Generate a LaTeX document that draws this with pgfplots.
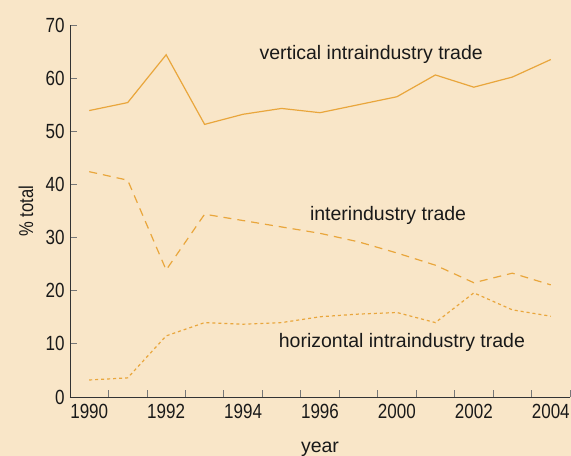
\documentclass[border=0pt]{standalone}
\usepackage{fontspec}
\setmainfont{Liberation Sans}
\newfontfamily\condfont[FakeStretch=0.83]{Liberation Sans}
\usepackage{pgfplots}
\pgfplotsset{compat=1.18}
\definecolor{bg}{HTML}{F9E6C8}
\definecolor{ln}{HTML}{E9A63C}
\definecolor{ax}{HTML}{333333}
\definecolor{tk}{HTML}{777777}
\begin{document}
\begin{tikzpicture}
\fill[bg] (-70bp,-59bp) rectangle (501bp,397bp);
\useasboundingbox (-70bp,-59bp) rectangle (501bp,397bp);
\begin{axis}[
  scale only axis, width=500bp, height=372bp,
  xmin=-0.5, xmax=12.5, ymin=0, ymax=70,
  /pgf/number format/assume math mode=true,
  axis x line*=bottom, axis y line*=left,
  axis line style={ax, line width=0.8bp, -},
  tick align=inside,
  major tick length=7bp,
  tick style={tk, line width=0.8bp},
  xtick={-0.5,0.5,...,12.5}, xticklabels={},
  extra x ticks={0,2,4,6,8,10,12},
  extra x tick labels={1990,1992,1994,1996,2000,2002,2004},
  extra x tick style={major tick length=0pt, tick style={draw=none}},
  ytick={0,10,...,70},
  x tick label style={font=\condfont\fontsize{20.5bp}{22bp}\selectfont, text=black!90, yshift=-4bp},
  y tick label style={font=\condfont\fontsize{20.5bp}{22bp}\selectfont, text=black!90, xshift=-2bp},
  xlabel={year},
  ylabel={\% total},
  xlabel style={font=\fontsize{19.5bp}{22bp}\selectfont, text=black!90, at={(axis description cs:0.5,-0.14)}, anchor=center},
  ylabel style={font=\condfont\fontsize{20bp}{22bp}\selectfont, text=black!90, at={(axis description cs:-0.088,0.5)}, anchor=center},
  clip=false,
]
\addplot[ln, line width=1.2bp] coordinates {
(0,53.9) (1,55.4) (2,64.4) (3,51.3) (4,53.2) (5,54.3) (6,53.5) (7,55.0) (8,56.5) (9,60.6) (10,58.3) (11,60.2) (12,63.5)};
\addplot[ln, line width=1.2bp, dash pattern=on 8bp off 6bp] coordinates {
(0,42.4) (1,40.8) (2,23.9) (3,34.4) (4,33.2) (5,32.0) (6,30.8) (7,29.2) (8,27.1) (9,24.8) (10,21.5) (11,23.3) (12,21.1)};
\addplot[ln, line width=1.2bp, dash pattern=on 3bp off 3bp] coordinates {
(0,3.2) (1,3.6) (2,11.5) (3,14.0) (4,13.7) (5,14.0) (6,15.1) (7,15.6) (8,15.9) (9,14.0) (10,19.6) (11,16.4) (12,15.2)};
\node[font=\fontsize{19.5bp}{22bp}\selectfont, text=black!90] at (axis cs:7.33,64.4) {vertical intraindustry trade};
\node[font=\fontsize{19.5bp}{22bp}\selectfont, text=black!90] at (axis cs:7.77,34.2) {interindustry trade};
\node[font=\fontsize{19.5bp}{22bp}\selectfont, text=black!90] at (axis cs:8.13,10.35) {horizontal intraindustry trade};
\end{axis}
\end{tikzpicture}
\end{document}
